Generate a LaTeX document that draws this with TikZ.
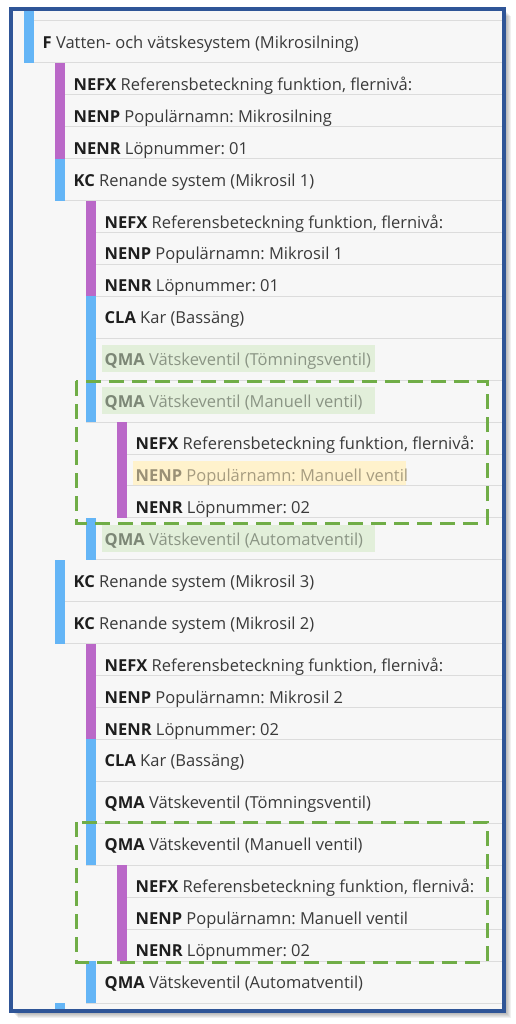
\documentclass[tikz,border=0pt]{standalone}
\usepackage{fontspec}
\setmainfont{Open Sans}
\frenchspacing
\definecolor{framebl}{HTML}{2F5597}
\definecolor{bggray}{HTML}{F7F7F7}
\definecolor{sepgray}{HTML}{DCDCDC}
\definecolor{barblue}{HTML}{64B5F6}
\definecolor{barpurple}{HTML}{BA68C8}
\definecolor{hlgreen}{HTML}{E2EFDA}
\definecolor{hlyellow}{HTML}{FFF2CC}
\definecolor{dashgreen}{HTML}{70AD47}
\definecolor{txtnone}{HTML}{3A3A3A}
\definecolor{boldnone}{HTML}{1E1E1E}
\definecolor{txtgreen}{HTML}{8A9484}
\definecolor{boldgreen}{HTML}{7C8776}
\definecolor{txtyellow}{HTML}{A69C80}
\definecolor{boldyellow}{HTML}{9A9076}
\tikzset{
  sep/.style={draw=sepgray,line width=1pt},
  bluebar/.style={fill=barblue},
  purplebar/.style={fill=barpurple},
  rowtext/.style={anchor=base west,inner sep=0pt,font=\fontsize{16.5}{19}\selectfont},
  selbox/.style={draw=dashgreen,line width=3pt,dash pattern=on 15pt off 8pt},
  framebox/.style={draw=framebl,line width=4pt},
}
\newcommand\rowitem[8]{%
  \pgfmathsetmacro\bx{24+31*(#2-1)}%
  \pgfmathsetmacro\bb{#3+#4}%
  \pgfmathsetmacro\bl{#3+27.5}%
  \def\tmphl{#6}\def\tmpnone{none}%
  \ifx\tmphl\tmpnone\else
    \fill[hl#6] (\bx+16,\bl-20.5) rectangle (\bx+289,{min(\bl+6.5,\bb)});
  \fi
  \draw[sep] (\bx,\bb) -- (502,\bb);
  \fill[#5] (\bx,#3) rectangle (\bx+10,\bb);
  \node[rowtext,text=txt#6] (#1) at (\bx+18.5,\bl) {\textcolor{bold#6}{\textbf{#7}} #8};
}
\begin{document}
\begin{tikzpicture}[x=1pt,y=-1pt]
\useasboundingbox (0,0) rectangle (515,1024);
% shadow
\foreach \i in {1,...,7}{
  \fill[black,opacity=0.06] (11+\i,9+\i) rectangle (504+\i,1011+\i);
}
\fill[white] (11,9) rectangle (504,1011);
\fill[bggray] (11,9) rectangle (504,1011);
% top partial row
\draw[sep] (24,21) -- (502,21);
\fill[bluebar] (24,9) rectangle (34,21);
\rowitem{f}{1}{21}{42}{bluebar}{none}{F}{Vatten- och vätskesystem (Mikrosilning)}
\rowitem{nefxa}{2}{63}{31.87}{purplebar}{none}{NEFX}{Referensbeteckning funktion, flernivå:}
\rowitem{nenpa}{2}{94.87}{31.87}{purplebar}{none}{NENP}{Populärnamn: Mikrosilning}
\rowitem{nenra}{2}{126.74}{31.87}{purplebar}{none}{NENR}{Löpnummer: 01}
\rowitem{kca}{2}{158.6}{42}{bluebar}{none}{KC}{Renande system (Mikrosil 1)}
\rowitem{nefxb}{3}{200.6}{31.87}{purplebar}{none}{NEFX}{Referensbeteckning funktion, flernivå:}
\rowitem{nenpb}{3}{232.47}{31.87}{purplebar}{none}{NENP}{Populärnamn: Mikrosil 1}
\rowitem{nenrb}{3}{264.34}{31.87}{purplebar}{none}{NENR}{Löpnummer: 01}
\rowitem{claa}{3}{296.2}{42}{bluebar}{none}{CLA}{Kar (Bassäng)}
\rowitem{qmata}{3}{338.2}{42}{bluebar}{green}{QMA}{Vätskeventil (Tömningsventil)}
\rowitem{qmama}{3}{380.2}{42}{bluebar}{green}{QMA}{Vätskeventil (Manuell ventil)}
\rowitem{nefxc}{4}{422.2}{31.87}{purplebar}{none}{NEFX}{Referensbeteckning funktion, flernivå:}
\rowitem{nenpc}{4}{454.07}{31.87}{purplebar}{yellow}{NENP}{Populärnamn: Manuell ventil}
\rowitem{nenrc}{4}{485.94}{31.87}{purplebar}{none}{NENR}{Löpnummer: 02}
\rowitem{qmaaa}{3}{517.8}{42}{bluebar}{green}{QMA}{Vätskeventil (Automatventil)}
\rowitem{kcc}{2}{559.8}{42}{bluebar}{none}{KC}{Renande system (Mikrosil 3)}
\rowitem{kcb}{2}{601.8}{42}{bluebar}{none}{KC}{Renande system (Mikrosil 2)}
\rowitem{nefxd}{3}{643.8}{31.87}{purplebar}{none}{NEFX}{Referensbeteckning funktion, flernivå:}
\rowitem{nenpd}{3}{675.67}{31.87}{purplebar}{none}{NENP}{Populärnamn: Mikrosil 2}
\rowitem{nenrd}{3}{707.54}{31.87}{purplebar}{none}{NENR}{Löpnummer: 02}
\rowitem{clab}{3}{739.4}{42}{bluebar}{none}{CLA}{Kar (Bassäng)}
\rowitem{qmatb}{3}{781.4}{42}{bluebar}{none}{QMA}{Vätskeventil (Tömningsventil)}
\rowitem{qmamb}{3}{823.4}{42}{bluebar}{none}{QMA}{Vätskeventil (Manuell ventil)}
\rowitem{nefxe}{4}{865.4}{31.87}{purplebar}{none}{NEFX}{Referensbeteckning funktion, flernivå:}
\rowitem{nenpe}{4}{897.27}{31.87}{purplebar}{none}{NENP}{Populärnamn: Manuell ventil}
\rowitem{nenre}{4}{929.14}{31.87}{purplebar}{none}{NENR}{Löpnummer: 02}
\rowitem{qmaab}{3}{961}{42}{bluebar}{none}{QMA}{Vätskeventil (Automatventil)}
% bottom partial row
\fill[bluebar] (55,1003) rectangle (65,1011);
% selection boxes
\draw[selbox] (76,381) rectangle (487,523);
\draw[selbox] (76,822) rectangle (487,962);
% frame
\draw[framebox] (11,9) rectangle (504,1011);
\end{tikzpicture}
\end{document}
